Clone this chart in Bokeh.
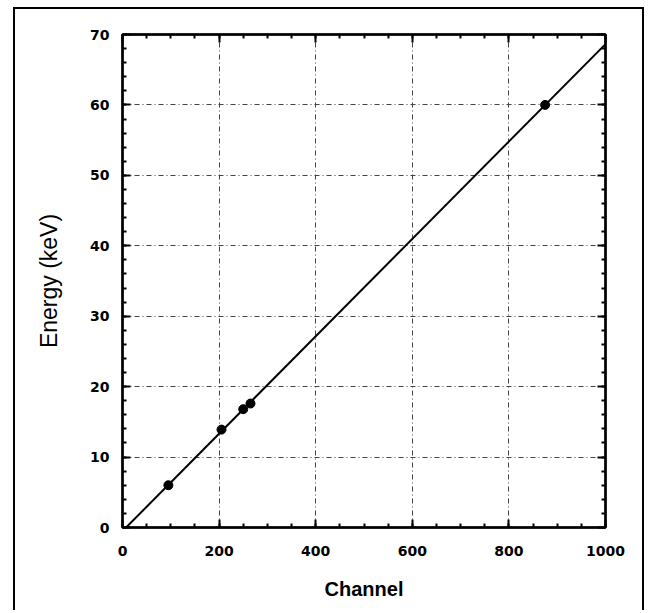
import numpy as np
from bokeh.plotting import figure
from bokeh.models import LinearAxis, Range1d, SingleIntervalTicker, CustomJSTickFormatter
from bokeh.embed import file_html
from bokeh.resources import INLINE

# Data
channels = [95, 205, 250, 265, 875]
energies = [6.0, 13.9, 16.8, 17.6, 60.0]
x_ticks = [0, 200, 400, 600, 800, 1000]
y_ticks = [0, 10, 20, 30, 40, 50, 60, 70]

# linear calibration fit
slope, intercept = np.polyfit(channels, energies, 1)
x_start = -intercept / slope
x_end = 1000
fit_x = [x_start, x_end]
fit_y = [slope * x_start + intercept, slope * x_end + intercept]

p = figure(
    width=631, height=603,
    x_range=Range1d(0, 1000), y_range=Range1d(0, 70),
    output_backend="svg", toolbar_location=None,
    min_border_left=107, min_border_right=41,
    min_border_top=25, min_border_bottom=85,
    x_axis_label="Channel", y_axis_label="Energy (keV)",
)
p.styles = {"border-top": "2px solid black", "border-left": "2px solid black",
            "border-right": "2px solid black", "margin-left": "13px",
            "margin-top": "7px"}
p.outline_line_color = "black"
p.outline_line_width = 2

xt = SingleIntervalTicker(interval=200, num_minor_ticks=4)
yt = SingleIntervalTicker(interval=10, num_minor_ticks=5)
p.xaxis.ticker = xt
p.yaxis.ticker = yt

for ax in (p.xaxis[0], p.yaxis[0]):
    ax.axis_line_width = 2.5
    ax.major_tick_in = 8
    ax.major_tick_out = 0
    ax.minor_tick_in = 4
    ax.minor_tick_out = 0
    ax.major_tick_line_width = 2
    ax.minor_tick_line_width = 2
    ax.major_label_text_font = "DejaVu Sans"
    ax.major_label_text_font_style = "bold"
    ax.major_label_text_font_size = "14px"
    ax.major_label_text_color = "black"
    ax.axis_label_text_font = "Liberation Sans"
    ax.axis_label_text_color = "black"

p.xaxis.major_label_standoff = 18
p.yaxis.major_label_standoff = 13
p.xaxis.axis_label_text_font_style = "bold"
p.xaxis.axis_label_text_font_size = "20px"
p.xaxis.axis_label_standoff = 19
p.yaxis.axis_label_text_font_style = "normal"
p.yaxis.axis_label_text_font_size = "23px"
p.yaxis.axis_label_standoff = 25

blank = CustomJSTickFormatter(code="return '';")
top = LinearAxis(ticker=SingleIntervalTicker(interval=200, num_minor_ticks=4),
                 formatter=blank, axis_line_width=2.5,
                 major_tick_in=8, major_tick_out=0, minor_tick_in=4, minor_tick_out=0,
                 major_tick_line_width=2, minor_tick_line_width=2,
                 major_label_standoff=0)
right = LinearAxis(ticker=SingleIntervalTicker(interval=10, num_minor_ticks=5),
                   formatter=blank, axis_line_width=2.5,
                   major_tick_in=8, major_tick_out=0, minor_tick_in=4, minor_tick_out=0,
                   major_tick_line_width=2, minor_tick_line_width=2,
                   major_label_standoff=0)
p.add_layout(top, "above")
p.add_layout(right, "right")

p.xgrid.ticker = xt
p.ygrid.ticker = yt
p.grid.grid_line_color = "#444444"
p.grid.grid_line_width = 1
p.grid.grid_line_dash = "5 3 1 3"

p.line(fit_x, fit_y, line_color="black", line_width=2)
p.scatter(channels, energies, size=9, color="black")

open("out.html", "w").write(file_html(p, INLINE))
